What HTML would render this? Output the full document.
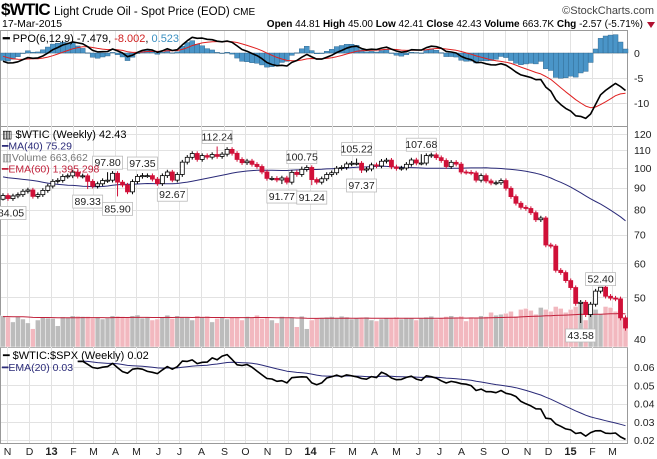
<!DOCTYPE html>
<html><head><meta charset="utf-8">
<style>
html,body{margin:0;padding:0;background:#fff;}
svg{display:block;font-family:"Liberation Sans",sans-serif;}
</style></head>
<body>
<svg id="chart" width="657" height="459" viewBox="0 0 657 459" xmlns="http://www.w3.org/2000/svg">
  <g>
    <text x="1" y="15" font-size="17" font-weight="bold" letter-spacing="-0.8">$WTIC</text>
    <text x="54" y="15" font-size="11.5">Light Crude Oil - Spot Price (EOD) <tspan font-size="10">CME</tspan></text>
    <text x="654" y="14" font-size="11" text-anchor="end" fill="#444">©StockCharts.com</text>
    <text x="2" y="27" font-size="10.5">17-Mar-2015</text>
    <text x="643" y="27" font-size="10" text-anchor="end"><tspan font-weight="bold">Open</tspan> 44.81  <tspan font-weight="bold">High</tspan> 45.00  <tspan font-weight="bold">Low</tspan> 42.41  <tspan font-weight="bold">Close</tspan> 42.43  <tspan font-weight="bold">Volume</tspan> 663.7K  <tspan font-weight="bold">Chg</tspan> -2.57 (-5.71%)</text>
    <path d="M647 22 L655 22 L651 28 Z" fill="#b01030"/>
  </g>
  <g id="grid"></g>
  <g id="ppo"></g>
  <g id="price"></g>
  <g id="ratio"></g>
  <g id="axes"></g>
</svg>
<script>
// ---------- DATA ----------
const priorCloses = [101,98,98,100,98,99,103,106,108,107,106,104,103,103,102,104,98,96,91,90,84,84,81,85,87,91,90,90,93,96,96,96,99,92,92,89,92,90,86];
const closes = [
86.3,84.9,86.1,86.7,88.3,88.9,85.9,86.7,88.7,90.8,
93.1,93.6,95.6,95.9,97.8,95.7,95.9,93.1,90.7,91.9,93.5,93.7,97.2,92.7,91.3,88.0,93.0,95.6,96.0,96.0,94.2,92.0,96.0,97.9,93.7,96.6,103.2,105.9,108.1,104.7,106.9,106.0,107.5,106.4,107.7,110.5,108.2,104.7,102.9,103.8,102.0,100.8,97.9,94.6,94.6,93.8,94.8,92.7,97.7,96.6,99.3,100.3,
94.0,92.7,94.4,96.6,97.5,99.9,100.3,102.2,102.6,102.6,98.9,99.5,101.7,101.1,103.7,104.3,100.6,99.8,100.0,102.0,104.4,102.7,102.7,106.9,107.3,105.7,104.1,100.8,103.1,102.1,97.9,97.7,97.4,93.7,96.0,93.3,92.3,92.4,93.5,89.7,85.8,82.8,81.0,80.5,78.7,75.8,76.5,66.2,65.8,57.8,57.1,54.7,
52.7,48.4,48.7,45.6,48.2,51.7,52.8,50.3,49.8,49.6,44.8,42.43];
const spx = [
1411,1414,1380,1359,1409,1416,1418,1413,1430,1402,
1466,1472,1485,1503,1513,1518,1520,1515,1518,1551,1561,1556,1569,1553,1588,1555,1582,1614,1633,1667,1650,1631,1643,1626,1593,1606,1632,1680,1692,1692,1709,1691,1655,1664,1633,1655,1688,1710,1692,1691,1703,1745,1759,1762,1771,1798,1805,1806,1805,1775,1818,1841,
1831,1842,1839,1790,1782,1797,1838,1836,1859,1878,1841,1866,1857,1865,1815,1864,1863,1881,1878,1877,1900,1924,1949,1936,1962,1960,1985,1967,1978,1978,1925,1931,1955,1988,2003,2007,1985,2010,1982,1967,1906,1887,1965,2018,2031,2039,2064,2068,2075,2002,2070,2088,
2058,2044,2019,2051,1995,2055,2096,2110,2104,2071,2053,2074];
const volumes = [
1.62,1.55,1.30,1.58,1.45,1.25,0.95,1.40,1.52,1.50,
1.48,1.10,1.56,1.52,1.62,1.60,1.58,1.58,1.50,1.55,
1.45,1.50,1.62,1.60,1.58,1.55,1.62,1.66,1.50,1.55,
1.40,1.45,1.55,1.65,1.48,1.62,1.55,1.55,1.40,1.62,
1.55,1.60,1.30,1.48,1.55,1.45,1.52,1.55,1.40,1.58,
1.52,1.65,1.48,1.55,1.40,1.25,1.58,1.50,1.55,1.05,
1.60,0.95,1.40,1.50,1.52,1.55,1.58,1.48,1.60,1.55,
1.45,1.50,1.52,1.55,1.40,1.35,1.45,1.50,1.48,1.55,
1.45,1.52,1.50,1.40,1.48,1.55,1.60,1.45,1.52,1.58,
1.62,1.55,1.60,1.35,1.55,1.50,1.62,1.58,1.80,1.65,
1.70,1.75,1.85,1.60,1.95,2.00,1.90,1.70,2.05,1.95,
1.85,2.10,2.00,1.80,1.95,2.10,2.25,1.40,1.75,1.95,
1.70,2.10,2.05,1.85,1.95,1.10];
const annoWeeks  = [0,17,23,21,28,34,43,56,60,62,71,72,84,120,116];
const annoValues = [84.05,89.33,85.90,97.80,97.35,92.67,112.24,91.77,100.75,91.24,105.22,97.37,107.68,52.40,43.58];
const annoAbove  = [false,false,false,true,true,false,true,false,true,false,true,false,true,true,false];
const monthLabels = ['N','D','13','F','M','A','M','J','J','A','S','O','N','D','14','F','M','A','M','J','J','A','S','O','N','D','15','F','M'];
const monthDays = [6,36,67,98,126,157,187,218,248,279,310,340,371,401,432,463,491,522,552,583,613,644,675,705,736,766,797,828,856];
const priceTicks = [120,110,100,90,80,70,60,50,40];
const ppoTicks = [0,-5,-10];
const ratioTicks = [0.06,0.05,0.04,0.03,0.02];

// ---------- SCALES ----------
const NS='http://www.w3.org/2000/svg';
const X0=3, W=4.98, PLOT_R=627;
function xw(i){return X0+i*W;}
function xd(d){return X0+d/7*W;}
function py(v){return 339-Math.log(v/40)*186.6;}
function ppoY(v){return 53-v*5;}
function ry(r){return 367-(r-0.06)*1830;}
function vy(v){return 347-v*19.3;}
function mk(parent,tag,attrs){const e=document.createElementNS(NS,tag);for(const k in attrs)e.setAttribute(k,attrs[k]);parent.appendChild(e);return e;}
function ema(arr,n,seed){const a=2/(n+1);const out=[];let p=seed!==undefined?seed:arr[0];for(let i=0;i<arr.length;i++){p=i===0&&seed===undefined?arr[0]:p+a*(arr[i]-p);out.push(p);}return out;}

const grid=document.getElementById('grid');
const ppoG=document.getElementById('ppo');
const priceG=document.getElementById('price');
const ratioG=document.getElementById('ratio');
const axes=document.getElementById('axes');

const panels=[[30,126],[126,347],[347,443]];
panels.forEach((p,k)=>{
  const r=mk(grid,'rect',{x:0.5,y:p[0]+0.5,width:PLOT_R,height:p[1]-p[0],fill:'#fff',stroke:'#999','stroke-width':1});
  
  
});
monthDays.forEach((d,i)=>{
  const x=Math.round(xd(d))+0.5;
  const l=mk(grid,'line',{x1:x,x2:x,y1:31,y2:443,stroke:'#e2e2e2','stroke-width':1});
  
  
  const isYear=/\d/.test(monthLabels[i]);
  const t=mk(axes,'text',{x:x,y:455,'font-size':isYear?11:10.5,'font-weight':isYear?'bold':'normal','text-anchor':'middle',fill:'#222'});
  t.textContent=monthLabels[i];
  
  
});
function hTick(y,label,name){
  const l=mk(grid,'line',{x1:1,x2:PLOT_R,y1:Math.round(y)+0.5,y2:Math.round(y)+0.5,stroke:'#e2e2e2','stroke-width':1});
  
  
  const t=mk(axes,'text',{x:634,y:y+4,'font-size':10.5,fill:'#222'});
  t.textContent=label;
  
  
}
ppoTicks.forEach(v=>hTick(ppoY(v),String(v),'ppo-axis'));
priceTicks.forEach(v=>hTick(py(v),String(v),'price-axis'));
ratioTicks.forEach(v=>hTick(ry(v),v.toFixed(2),'ratio-axis'));

// ---------- PPO ----------
const all=priorCloses.concat(closes);
const e6=ema(all,6), e12=ema(all,12);
const ppoAll=all.map((c,i)=>(e6[i]-e12[i])/e12[i]*100);
const sigAll=ema(ppoAll,9);
const off=priorCloses.length;
const ppo=ppoAll.slice(off), sig=sigAll.slice(off);
ppo.forEach((v,i)=>{
  const h=(v-sig[i])*1.5;
  const y0=ppoY(0), y1=ppoY(h);
  const r=mk(ppoG,'rect',{x:xw(i)-2.5,y:Math.min(y0,y1),width:5,height:Math.max(0.5,Math.abs(y1-y0)),fill:'#4a95c8',stroke:'#2a5f85','stroke-width':0.4});
  
  
});
function line(g,vals,xf,yf,color,wd,name,start){
  let d='';for(let i=start||0;i<vals.length;i++){d+=(d?'L':'M')+xf(i).toFixed(1)+' '+yf(vals[i]).toFixed(1);}
  const p=mk(g,'path',{d:d,fill:'none',stroke:color,'stroke-width':wd,'stroke-linejoin':'round'});
  
  
  return p;
}
line(ppoG,sig,xw,ppoY,'#e02020',1,'ppo-signal-line');
line(ppoG,ppo,xw,ppoY,'#000',1.6,'ppo-line');
const pl=mk(ppoG,'text',{x:3,y:42,'font-size':11});
pl.innerHTML='<tspan font-weight="bold">━</tspan> PPO(6,12,9) -7.479, <tspan fill="#d02020">-8.002</tspan>, <tspan fill="#3a8fc0">0.523</tspan>';



// ---------- PRICE ----------
volumes.forEach((v,i)=>{
  const down=i>0&&closes[i]<closes[i-1];
  const r=mk(priceG,'rect',{x:xw(i)-2.5,y:vy(v),width:5,height:347-vy(v),fill:down?'#f2b8bf':'#bcbcbc',stroke:'#fff','stroke-width':0.5});
  
  
});
const vavg=volumes.reduce((a,b)=>a+b,0)/volumes.length;
const vema=ema(volumes,60,vavg);
line(priceG,vema,xw,vy,'#c0203a',1,'volume-ema-line');
const ma=closes.map((c,i)=>{const j=i+off;let s=0;for(let k=j-39;k<=j;k++)s+=all[k];return s/40;});
line(priceG,ma,xw,py,'#2a2a78',1,'ma40-line');
closes.forEach((c,i)=>{
  const o=i===0?84.6:closes[i-1];
  let hi=Math.max(o,c)+Math.max(0.6,c*0.012), lo=Math.min(o,c)-Math.max(0.6,c*0.012);
  const ai=annoWeeks.indexOf(i);
  if(ai>=0){if(annoAbove[ai])hi=annoValues[ai];else lo=annoValues[ai];}
  const up=c>=o;
  const col=up?'#000':'#d01038';
  const x=xw(i);
  const w=mk(priceG,'line',{x1:x,x2:x,y1:py(hi),y2:py(lo),stroke:col,'stroke-width':1});
  
  
  const yt=py(Math.max(o,c)), yb=py(Math.min(o,c));
  const b=mk(priceG,'rect',{x:x-2,y:yt,width:4,height:Math.max(1,yb-yt),fill:up?'#fff':'#d01038',stroke:col,'stroke-width':0.8});
  
  
});
annoValues.forEach((v,k)=>{
  const x=xw(annoWeeks[k]);
  const y=annoAbove[k]?py(v)-6:py(v)+16;
  const bx=Math.max(-4,x-15);
  const r=mk(priceG,'rect',{x:bx,y:y-10,width:30,height:13,fill:'#fff',stroke:'#bbb','stroke-width':0.8});
  
  
  const t=mk(priceG,'text',{x:bx+15,y:y,'font-size':10.5,'text-anchor':'middle',fill:'#222'});
  t.textContent=v.toFixed(2);
  
  
});
const legendRows=[['▥ $WTIC (Weekly) 42.43','#000','price-legend'],['━MA(40) 75.29','#2a2a78','ma40-legend'],['▥Volume 663,662','#777','volume-legend'],['━EMA(60) 1,395,298','#c0203a','volume-ema-legend']];
legendRows.forEach((r,k)=>{
  const t=mk(priceG,'text',{x:2,y:138+k*11.5,'font-size':k===0?11:10.5,fill:r[1]});
  t.textContent=r[0];
  
  
});

// ---------- RATIO ----------
const ratio=closes.map((c,i)=>c/spx[i]);
const rema=ema(ratio,20,0.0635);
line(ratioG,rema,xw,ry,'#2a2a78',1,'ratio-ema-line',15);
line(ratioG,ratio,xw,ry,'#000',1.6,'ratio-line',15);
const r1=mk(ratioG,'text',{x:3,y:359,'font-size':11});
r1.textContent='━ $WTIC:$SPX (Weekly) 0.02';


const r2=mk(ratioG,'text',{x:2,y:371,'font-size':10.5,fill:'#2a2a78'});
r2.textContent='━EMA(20) 0.03';


</script>
</body></html>
